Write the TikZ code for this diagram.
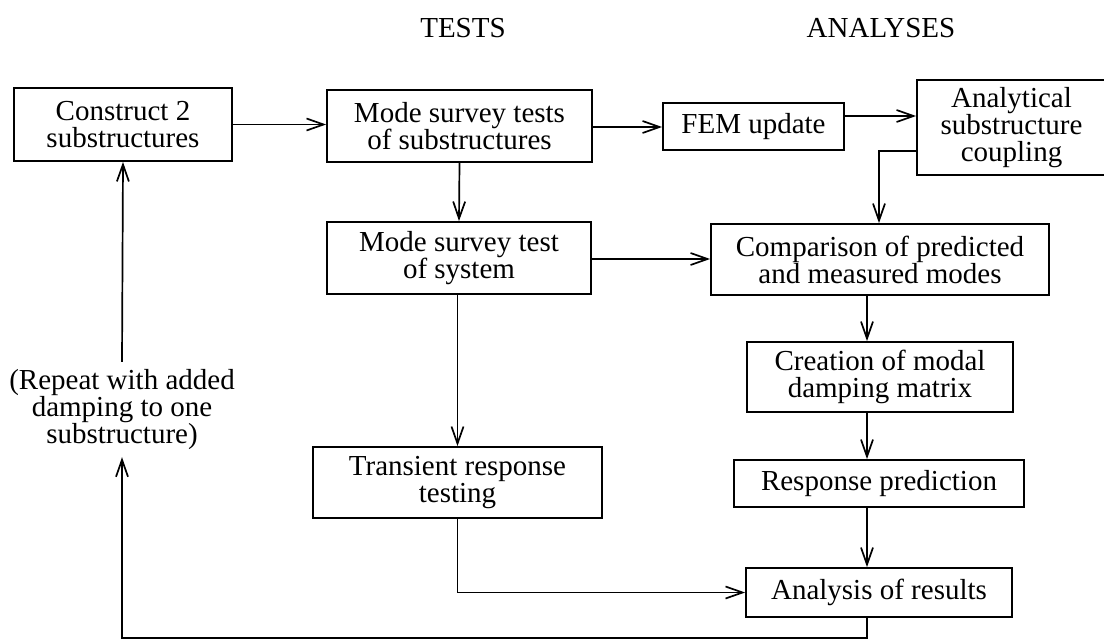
\documentclass[tikz,border=0pt]{standalone}
\usepackage{fontspec}
\setmainfont{Liberation Serif}
\usetikzlibrary{arrows.meta,positioning,calc}
\begin{document}
\begin{tikzpicture}[x=1pt,y=-1pt,
  every node/.style={font=\fontsize{29}{27}\selectfont},
  box/.style={draw,line width=1.8pt,align=center,inner sep=0pt},
  conn/.style={line width=1.7pt},
  arr/.style={conn,-{Straight Barb[length=17pt,width=12pt,line width=1.7pt]}}]
\useasboundingbox (0,0) rectangle (1104,638);
% headings
\node[anchor=base] (tests) at (463,37) {TESTS};
\node[anchor=base] (analyses) at (881,37) {ANALYSES};
% boxes
\node[box,minimum width=218pt,minimum height=73pt] (cons) at (123,124.5) {Construct 2\\substructures};
\node[box,minimum width=265pt,minimum height=72pt] (mst) at (459.5,126) {Mode survey tests\\of substructures};
\node[box,minimum width=181pt,minimum height=47pt] (fem) at (753.5,126.5) {FEM update};
\node[box,minimum width=189pt,minimum height=95pt] (ana) at (1011.5,127.5) {Analytical\\substructure\\coupling};
\node[box,minimum width=264pt,minimum height=72pt] (mss) at (459,258) {Mode survey test\\of system};
\node[box,minimum width=338pt,minimum height=71pt] (cmp) at (880,259.5) {Comparison of predicted\\and measured modes};
\node[box,minimum width=266pt,minimum height=70pt] (cre) at (880,377) {Creation of modal\\damping matrix};
\node[box,minimum width=289pt,minimum height=71pt] (tra) at (457.5,482.5) {Transient response\\testing};
\node[box,minimum width=290pt,minimum height=47pt] (rsp) at (879,483.5) {Response prediction};
\node[box,minimum width=266pt,minimum height=49pt] (anr) at (879,592.5) {Analysis of results};
\node[align=center,inner sep=0pt,minimum height=95pt] (rep) at (122,409.5) {(Repeat with added\\damping to one\\substructure)};
% connectors
\draw[arr] (cons.east) -- (cons.east -| mst.west);
\draw[arr] ([yshift=-1pt]mst.east) -- ([yshift=-1pt]mst.east -| fem.west);
\draw[arr] ([yshift=10.5pt]fem.east) -- ([yshift=10.5pt]fem.east -| ana.west);
\draw[arr] ([yshift=-23.5pt]ana.west) -| ([xshift=-1pt]cmp.north);
\draw[arr] (mst.south) -- (mss.north);
\draw[arr] ([yshift=-1pt]mss.east) -- ([yshift=-1pt]mss.east -| cmp.west);
\draw[arr] ([xshift=-13pt]cmp.south) -- ([xshift=-13pt]cre.north);
\draw[arr] ([xshift=-13pt]cre.south) -- ([xshift=-12pt]rsp.north);
\draw[arr] ([xshift=-12pt]rsp.south) -- ([xshift=-12pt]anr.north);
\draw[arr] (tra.north |- mss.south) -- (tra.north);
\draw[arr] (tra.south) |- (anr.west);
\coordinate (bot) at ([xshift=-12pt,yshift=-20pt]anr.south);
\draw[arr] ([xshift=-12pt]anr.south) -- (bot) -| (rep.south);
\draw[arr] (rep.north) -- (cons.south);
\end{tikzpicture}
\end{document}
